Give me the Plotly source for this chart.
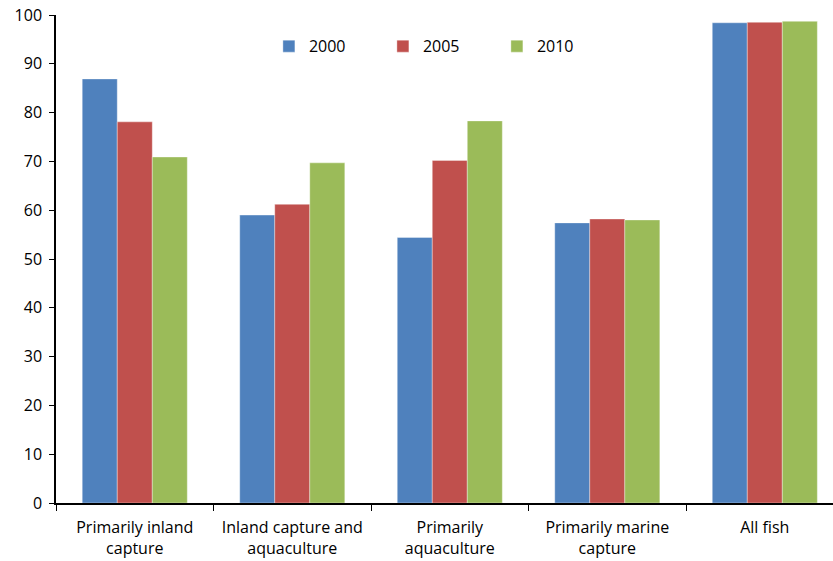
import plotly.graph_objects as go

categories = [
    "Primarily inland<br>capture",
    "Inland capture and<br>aquaculture",
    "Primarily<br>aquaculture",
    "Primarily marine<br>capture",
    "All fish",
]
years = ["2000", "2005", "2010"]
values_2000 = [86.9, 59.0, 54.4, 57.4, 98.4]
values_2005 = [78.1, 61.2, 70.2, 58.2, 98.5]
values_2010 = [70.9, 69.7, 78.3, 58.0, 98.7]
colors = ["#4F81BD", "#C0504D", "#9BBB59"]
y_ticks = [0, 10, 20, 30, 40, 50, 60, 70, 80, 90, 100]

fig = go.Figure()
for name, vals, col in zip(years, [values_2000, values_2005, values_2010], colors):
    fig.add_trace(go.Bar(
        x=categories, y=vals, name=name,
        marker=dict(color=col, line=dict(color="rgba(255,255,255,0.35)", width=1)),
    ))

font_family = "Open Sans, Liberation Sans, sans-serif"
fig.update_layout(
    width=833, height=561,
    margin=dict(l=56, r=0, t=15, b=58),
    plot_bgcolor="white", paper_bgcolor="white",
    barmode="group", bargap=0.333, bargroupgap=0,
    font=dict(family=font_family, size=16, color="#000"),
    showlegend=True,
    legend=dict(
        orientation="h", x=0.274, xanchor="left", y=0.936, yanchor="middle",
        font=dict(size=16), entrywidth=69, entrywidthmode="pixels",
        itemwidth=30, bgcolor="rgba(0,0,0,0)",
    ),
    xaxis=dict(
        range=[-0.5, 4.433], tickson="boundaries", ticks="outside", ticklen=6,
        tickcolor="#000", showline=True, linecolor="#000", linewidth=1.5,
        showgrid=False, tickfont=dict(size=16), ticklabelstandoff=9,
    ),
    yaxis=dict(
        range=[0, 100], tickvals=y_ticks, ticks="outside", ticklen=5,
        tickcolor="#000", showline=True, linecolor="#000", linewidth=1.5,
        showgrid=False, zeroline=False, tickfont=dict(size=16),
        ticklabelstandoff=4,
    ),
)
fig.write_html("out.html")
